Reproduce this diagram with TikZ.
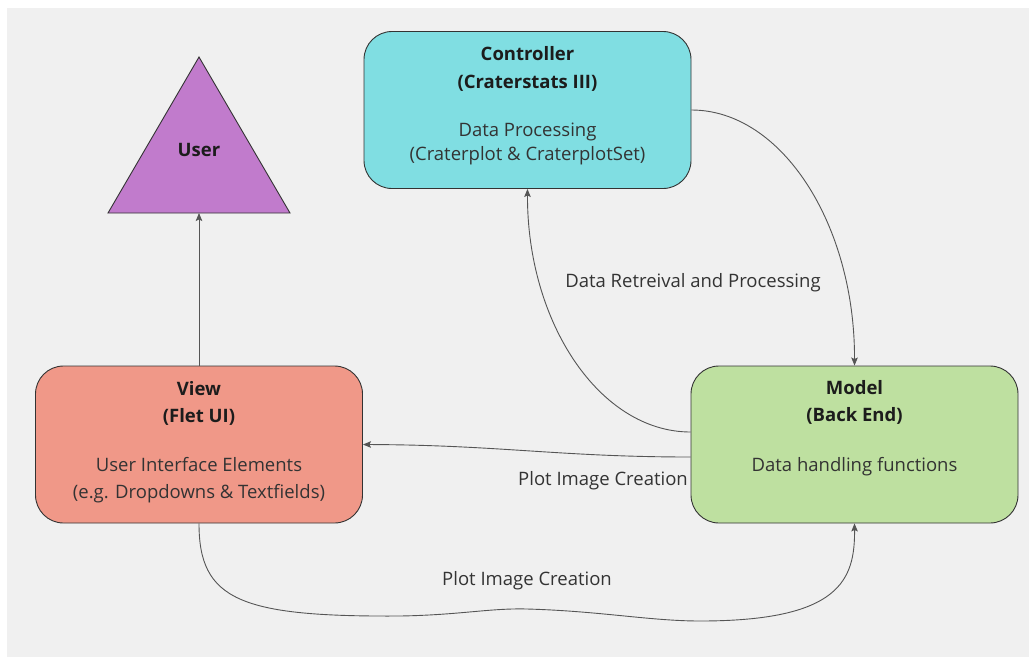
\documentclass[tikz,border=0pt]{standalone}
\usepackage{fontspec}
\setmainfont{Open Sans}
\usetikzlibrary{arrows.meta}
\definecolor{canvas}{HTML}{F0F0F0}
\definecolor{ink}{HTML}{333333}
\definecolor{darkink}{HTML}{1C1C1C}
\definecolor{wire}{HTML}{555555}
\definecolor{usercol}{HTML}{C17BCC}
\definecolor{ctrlcol}{HTML}{80DEE2}
\definecolor{viewcol}{HTML}{F09888}
\definecolor{modelcol}{HTML}{BEE0A0}
\begin{document}
\begin{tikzpicture}[x=1pt,y=-1pt,
  box/.style={draw=ink, line width=0.9pt, rounded corners=28pt,
    minimum width=327pt, minimum height=157pt, inner sep=0pt},
  title/.style={align=center, text=darkink, font=\fontsize{18.5}{27}\selectfont\bfseries, inner sep=0pt},
  body/.style={align=center, text=ink, font=\fontsize{18.5}{27}\selectfont, inner sep=0pt},
  lbl/.style={text=ink, font=\fontsize{18.5}{22}\selectfont, inner sep=0pt},
  flow/.style={draw=wire, line width=0.9pt, -{Stealth[length=8pt,width=6.5pt,inset=1.5pt]}}
]
% page and canvas
\useasboundingbox (0,0) rectangle (1029,657);
\fill[white] (0,0) rectangle (1029,657);
\fill[canvas] (7,8) rectangle (1029,657);

% user triangle
\coordinate (apex) at (199,57);
\coordinate (baseL) at (108,213);
\coordinate (baseR) at (290,213);
\coordinate (userbase) at (199,213);
\draw[draw=ink, line width=0.9pt, fill=usercol, line join=miter] (baseL) -- (apex) -- (baseR) -- cycle;
\node[title] (user) at (199,149.5) {User};

% MVC boxes
\node[box, fill=ctrlcol] (ctrl) at (527.5,110) {};
\node[box, fill=viewcol] (view) at (199,444.5) {};
\node[box, fill=modelcol] (model) at (854.5,444.5) {};

\node[title, font=\fontsize{18.5}{28}\selectfont\bfseries] (ctrlT) at ([yshift=-37.5pt]ctrl.north) {Controller\\(Craterstats III)};
\node[body, font=\fontsize{18.5}{24}\selectfont] (ctrlB) at ([yshift=-112.5pt]ctrl.north) {Data Processing\\(Craterplot \& CraterplotSet)};
\node[title] (viewT) at ([yshift=-38pt]view.north) {View\\(Flet UI)};
\node[body]  (viewB) at ([yshift=-115pt]view.north) {User Interface Elements\\(e.g. Dropdowns \& Textfields)};
\node[title] (modelT) at ([yshift=-37pt]model.north) {Model\\(Back End)};
\node[body]  (modelB) at ([yshift=-101pt]model.north) {Data handling functions};

% connectors
\draw[flow] (view.north) -- (userbase);
\draw[flow] (ctrl.east) .. controls (782,110) and (855,225) .. (model.north);
\draw[flow] ([yshift=12.5pt]model.west) .. controls (600,432) and (527,323) .. (ctrl.south);
\draw[flow] ([yshift=-12.5pt]model.west) .. controls (560,457) and (500,445) .. (view.east);
\draw[flow] (view.south) .. controls (199,600) and (240,617) .. (400,616)
  .. controls (460,615) and (490,608) .. (527,609)
  .. controls (600,611) and (650,621) .. (700,621)
  .. controls (840,621) and (855,580) .. (model.south);

% connector labels
\node[lbl] (lblData) at (693,283) {Data Retreival and Processing};
\node[lbl] (lblPlotA) at (603,481) {Plot Image Creation};
\node[lbl] (lblPlotB) at (527,581) {Plot Image Creation};
\end{tikzpicture}
\end{document}
